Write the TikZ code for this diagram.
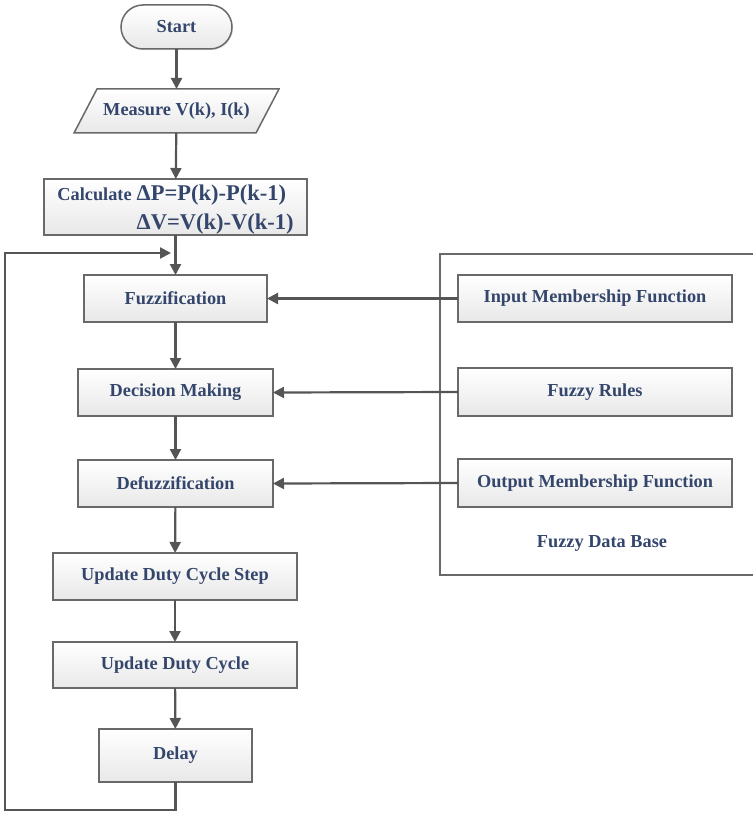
\documentclass[tikz,border=0pt]{standalone}
\usepackage{fontspec}
\setmainfont{Liberation Serif}
\usetikzlibrary{arrows.meta,shadows}
\definecolor{txtblue}{RGB}{52,70,108}
\definecolor{linegray}{RGB}{85,85,85}
\definecolor{boxgray}{RGB}{105,105,105}
\begin{document}
\begin{tikzpicture}[x=1pt,y=-1pt,
  every node/.style={text=txtblue, font=\fontsize{18.3}{20}\selectfont\bfseries},
  procbox/.style={rectangle, draw=boxgray, line width=1.5pt, top color=white,
    bottom color=black!9, inner sep=0pt, outer sep=0pt,
    drop shadow={shadow xshift=1.2pt, shadow yshift=-1.2pt, opacity=0.18}},
  flow/.style={draw=linegray, line width=2.2pt, -{Triangle[length=11pt,width=11pt]}}
]
\useasboundingbox (0,0) rectangle (752,813);

% fuzzy data base container (open to the right)
\draw[draw=boxgray, line width=1.5pt] (760,254) -- (440,254) -- (440,575) -- (760,575);

% main flow
\node[procbox, rounded corners=22pt, minimum width=111, minimum height=44] (start) at (176.5,27) {Start};

\node[minimum width=160, minimum height=44, inner sep=0pt, outer sep=0pt] (measure) at (176.5,111) {};
\filldraw[draw=boxgray, line width=1.5pt, top color=white, bottom color=black!9]
  ([xshift=-79.5]measure.north) -- ([xshift=102.5]measure.north)
  -- ([xshift=79.5]measure.south) -- ([xshift=-102.5]measure.south) -- cycle;
\node at (measure) {Measure V(k), I(k)};

\node[procbox, minimum width=263, minimum height=56] (calc) at (175.5,207) {%
  \raisebox{-3pt}[\height][\depth]{\begin{tabular}{@{}r@{\hspace{5pt}}l@{}}
  Calculate & \fontsize{22.5}{26}\selectfont ΔP=P(k)-P(k-1)\\[7pt]
  & \fontsize{22.5}{26}\selectfont ΔV=V(k)-V(k-1)
  \end{tabular}}};

\node[procbox, minimum width=183, minimum height=47] (fuzz) at (175.5,298.5) {Fuzzification};
\node[procbox, minimum width=195, minimum height=47] (dec) at (175.5,392.5) {Decision Making};
\node[procbox, minimum width=195, minimum height=47] (defuzz) at (175.5,483.5) {Defuzzification};
\node[procbox, minimum width=244, minimum height=47] (uds) at (175,576.5) {Update Duty Cycle Step};
\node[procbox, minimum width=244, minimum height=46] (udc) at (175,665) {Update Duty Cycle};
\node[procbox, minimum width=153, minimum height=53] (delay) at (175.5,755.5) {Delay};

% knowledge base blocks
\node[procbox, minimum width=274, minimum height=47] (imf) at (595,298.5) {Input Membership Function};
\node[procbox, minimum width=274, minimum height=48] (rules) at (595,392) {Fuzzy Rules};
\node[procbox, minimum width=274, minimum height=48] (omf) at (595,483) {Output Membership Function};
\node (dbase) at (602,543) {Fuzzy Data Base};

% connectors
\draw[flow] (start) -- (measure);
\draw[flow] (measure) -- (calc);
\draw[flow] (calc) -- (fuzz);
\draw[flow] (fuzz) -- (dec);
\draw[flow] (dec) -- (defuzz);
\draw[flow] (defuzz) -- (uds);
\draw[flow] (uds) -- (udc);
\draw[flow] (udc) -- (delay);

\draw[flow] (imf) -- (fuzz);
\draw[flow] (rules.west) -- (dec.east);
\draw[flow] (omf.west) -- (defuzz.east);

% feedback loop
\coordinate (loopend) at (171,253);
\draw[flow] (delay.south) -- (175.5,810) -- (5,810) -- (5,253) -- (loopend);
\end{tikzpicture}
\end{document}
